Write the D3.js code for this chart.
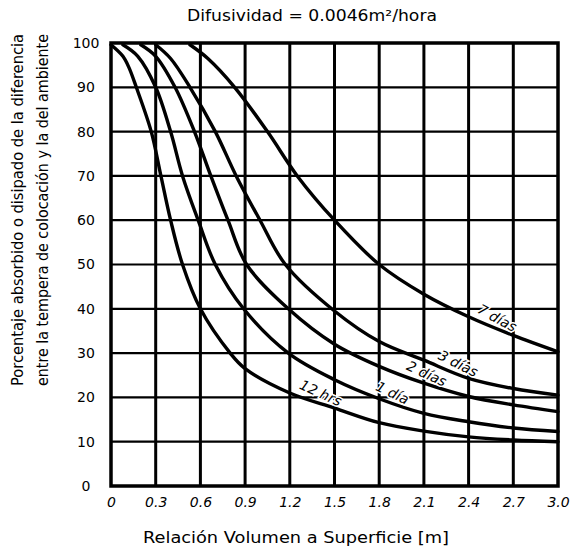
<!DOCTYPE html>
<html>
<head>
<meta charset="utf-8">
<script src="https://cdn.jsdelivr.net/npm/d3@7"></script>
<style>
  body { margin: 0; background: #fff; }
  text { font-family: "DejaVu Sans", sans-serif; fill: #000; }
</style>
</head>
<body>
<div id="chart"></div>
<script>
// Datos
const xTicks = [0, 0.3, 0.6, 0.9, 1.2, 1.5, 1.8, 2.1, 2.4, 2.7, 3.0];
const xTickLabels = ["0", "0.3", "0.6", "0.9", "1.2", "1.5", "1.8", "2.1", "2.4", "2.7", "3.0"];
const yTicks = [0, 10, 20, 30, 40, 50, 60, 70, 80, 90, 100];

const seriesNames = ["12 hrs", "1 día", "2 días", "3 días", "7 días"];

// [relación V/S (m), porcentaje]
const curve12h = [[0, 99.6], [0.08, 97], [0.12, 94.5], [0.17, 90], [0.27, 80], [0.335, 70], [0.40, 60], [0.48, 50],
  [0.60, 40], [0.80, 30], [0.9, 26.5], [1.2, 21], [1.5, 17.6], [1.8, 14.3], [2.1, 12.4], [2.4, 11.1], [2.7, 10.4], [3.0, 10]];
const curve1d = [[0.08, 99.6], [0.18, 97], [0.30, 90], [0.40, 80], [0.48, 70], [0.585, 60], [0.70, 50],
  [0.89, 40], [1.19, 30], [1.5, 24], [1.8, 19.7], [2.1, 16.4], [2.4, 14.5], [2.7, 13.1], [3.0, 12.3]];
const curve2d = [[0.2, 99.6], [0.3, 97], [0.43, 90], [0.56, 80], [0.67, 70], [0.785, 60], [0.91, 50],
  [1.19, 40], [1.5, 32], [1.8, 27], [2.1, 23.2], [2.4, 20.2], [2.7, 18.3], [3.0, 16.8]];
const curve3d = [[0.3, 99.6], [0.4, 96.5], [0.53, 90], [0.70, 80], [0.84, 70], [1.0, 60], [1.17, 50],
  [1.5, 39.5], [1.8, 32.6], [2.1, 28.4], [2.4, 24.3], [2.7, 22], [3.0, 20.5]];
const curve7d = [[0.53, 99.6], [0.65, 96.5], [0.83, 90], [1.05, 80], [1.25, 70], [1.5, 60], [1.8, 50],
  [2.1, 43.3], [2.4, 38.2], [2.7, 34], [3.0, 30.3]];

// Posición (en m) de cada rótulo a lo largo de su curva
const labelAt = [1.38, 1.86, 2.09, 2.3, 2.56];

const curves = [curve12h, curve1d, curve2d, curve3d, curve7d];

// Dimensiones
const W = 574, H = 552;
const margin = { top: 43, right: 16, bottom: 66, left: 111 };
const width = W - margin.left - margin.right;
const height = H - margin.top - margin.bottom;

const svg = d3.select("#chart").append("svg")
  .attr("width", W)
  .attr("height", H);

const g = svg.append("g")
  .attr("transform", `translate(${margin.left},${margin.top})`);

const x = d3.scaleLinear().domain([0, 3]).range([0, width]);
const y = d3.scaleLinear().domain([0, 100]).range([height, 0]);

// Rejilla vertical
g.append("g")
  .selectAll("line")
  .data(xTicks.slice(1, -1))
  .join("line")
  .attr("x1", d => x(d)).attr("x2", d => x(d))
  .attr("y1", 0).attr("y2", height)
  .attr("stroke", "#000")
  .attr("stroke-width", 3);

// Rejilla horizontal
g.append("g")
  .selectAll("line")
  .data(yTicks.slice(1, -1))
  .join("line")
  .attr("x1", 0).attr("x2", width)
  .attr("y1", d => y(d)).attr("y2", d => y(d))
  .attr("stroke", "#000")
  .attr("stroke-width", 2.2);

// Eje X (solo etiquetas)
const xAxis = g.append("g")
  .attr("transform", `translate(0,${height})`)
  .call(d3.axisBottom(x).tickValues(xTicks).tickFormat((d, i) => xTickLabels[i]).tickSize(0).tickPadding(11));
xAxis.select(".domain").remove();
xAxis.selectAll("text")
  .attr("font-size", 14)
  .attr("font-style", "italic")
  .attr("font-family", "DejaVu Sans");

// Eje Y (solo etiquetas)
const yAxis = g.append("g")
  .call(d3.axisLeft(y).tickValues(yTicks).tickFormat(d3.format("d")).tickSize(0).tickPadding(25));
yAxis.select(".domain").remove();
yAxis.selectAll("text")
  .attr("font-size", 14)
  .attr("text-anchor", "middle")
  .attr("font-family", "DejaVu Sans");

// Curvas
const line = d3.line()
  .x(d => x(d[0]))
  .y(d => y(d[1]))
  .curve(d3.curveCatmullRom.alpha(0.5));

g.append("g")
  .selectAll("path")
  .data(curves)
  .join("path")
  .attr("d", line)
  .attr("fill", "none")
  .attr("stroke", "#000")
  .attr("stroke-width", 3.4)
  .attr("stroke-linecap", "round");

// Marco
g.append("rect")
  .attr("x", 0).attr("y", 0)
  .attr("width", width).attr("height", height)
  .attr("fill", "none")
  .attr("stroke", "#000")
  .attr("stroke-width", 3.5);

// Interpolación lineal para colocar los rótulos
function valueAt(pts, v) {
  for (let i = 1; i < pts.length; i++) {
    if (v <= pts[i][0]) {
      const t = (v - pts[i - 1][0]) / (pts[i][0] - pts[i - 1][0]);
      return pts[i - 1][1] + t * (pts[i][1] - pts[i - 1][1]);
    }
  }
  return pts[pts.length - 1][1];
}

// Rótulos de las curvas
g.append("g")
  .selectAll("text")
  .data(seriesNames)
  .join("text")
  .attr("transform", (d, i) => {
    const pts = curves[i], v = labelAt[i];
    const x0 = x(v - 0.15), y0 = y(valueAt(pts, v - 0.15));
    const x1 = x(v + 0.15), y1 = y(valueAt(pts, v + 0.15));
    const ang = Math.atan2(y1 - y0, x1 - x0) * 180 / Math.PI + 6;
    return `translate(${x(v)},${y(valueAt(pts, v))}) rotate(${ang})`;
  })
  .attr("dy", -5)
  .attr("text-anchor", "middle")
  .attr("font-size", 14)
  .attr("font-style", "italic")
  .attr("stroke", "#fff")
  .attr("stroke-width", 3)
  .attr("paint-order", "stroke")
  .text(d => d);

// Título
svg.append("text")
  .attr("x", 312)
  .attr("y", 21)
  .attr("text-anchor", "middle")
  .attr("font-size", 16)
  .attr("textLength", 250)
  .attr("lengthAdjust", "spacingAndGlyphs")
  .text("Difusividad = 0.0046m²/hora");

// Título del eje X
svg.append("text")
  .attr("x", 296)
  .attr("y", 543)
  .attr("text-anchor", "middle")
  .attr("font-size", 16)
  .attr("textLength", 306)
  .attr("lengthAdjust", "spacingAndGlyphs")
  .text("Relación Volumen a Superficie [m]");

// Título del eje Y (dos líneas)
const yTitle = svg.append("text")
  .attr("transform", "translate(0,210) rotate(-90)")
  .attr("text-anchor", "middle")
  .attr("font-size", 15);
yTitle.append("tspan").attr("x", 0).attr("y", 23)
  .attr("textLength", 352).attr("lengthAdjust", "spacingAndGlyphs")
  .text("Porcentaje absorbido o disipado de la diferencia");
yTitle.append("tspan").attr("x", 0).attr("y", 48)
  .attr("textLength", 352).attr("lengthAdjust", "spacingAndGlyphs")
  .text("entre la tempera de colocación y la del ambiente");
</script>
</body>
</html>
